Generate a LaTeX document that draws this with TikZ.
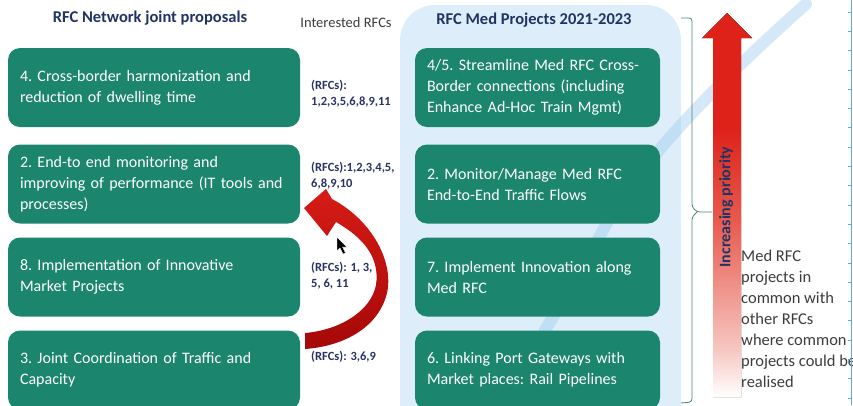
\documentclass[tikz,border=0pt]{standalone}
\usepackage{fontspec}
\setmainfont{Carlito}
\usetikzlibrary{calc}

\definecolor{boxgreen}{RGB}{27,133,110}
\definecolor{navy}{RGB}{31,52,100}
\definecolor{labelnavy}{RGB}{40,52,100}
\definecolor{notegray}{RGB}{60,60,60}
\definecolor{panelblue}{RGB}{221,238,250}
\definecolor{stripeblue}{RGB}{160,205,238}
\definecolor{bracegreen}{RGB}{70,135,115}
\definecolor{prioRed}{RGB}{222,34,26}
\definecolor{prioMid}{RGB}{232,90,78}
\definecolor{prioPink}{RGB}{246,200,195}
\definecolor{curveRedTop}{RGB}{215,28,22}
\definecolor{curveRedBot}{RGB}{165,8,8}
\definecolor{rulerblue}{RGB}{95,170,220}

% red-to-white fade of the priority arrow (path is mapped onto 25bp..75bp)
\pgfdeclareverticalshading{prioshade}{100bp}{%
  color(0bp)=(white); color(25bp)=(white); color(31bp)=(prioPink);
  color(48bp)=(prioMid); color(60bp)=(prioRed); color(100bp)=(prioRed)}

\tikzset{
  gbox/.style={draw=none, fill=boxgreen, rounded corners=12pt, text=white,
    align=left, inner xsep=12pt, inner ysep=0pt,
    font=\frenchspacing\fontsize{16}{21}\selectfont},
  lbox/.style={gbox, minimum width=292pt, text width=268pt, minimum height=79pt},
  rbox/.style={gbox, minimum width=245pt, text width=221pt, minimum height=79pt},
  rfclabel/.style={anchor=west, align=left, inner sep=0pt, text=labelnavy,
    font=\bfseries\fontsize{12.5}{16}\selectfont},
  heading/.style={text=navy, inner sep=0pt, font=\bfseries\fontsize{16.5}{20}\selectfont},
}

\begin{document}
\begin{tikzpicture}[x=1pt, y=-1pt]
\useasboundingbox (0,0) rectangle (853,405);
\clip (0,0) rectangle (853,405);

% light panel behind the Med projects
\fill[panelblue, rounded corners=35pt] (400,440) -- (400,5) -- (681,5) -- (681,440);

% soft diagonal band in the background
\draw[stripeblue, opacity=0.45, line width=12pt, line cap=round]
  (806,4) .. controls (730,72) and (640,158) .. (602,232)
          .. controls (585,265) and (570,290) .. (545,330);

% headings
\node[heading] (hleft) at (150,18) {RFC Network joint proposals};
\node[text=notegray, inner sep=0pt, font=\fontsize{14.5}{17}\selectfont] (hmid) at (346,23) {Interested RFCs};
\node[heading] (hright) at (534,20) {RFC Med Projects 2021-2023};

% network joint proposals
\node[lbox] (l4) at (154,87.5) {4. Cross-border harmonization and\\reduction of dwelling time};
\node[lbox] (l2) at (154,184) {2. End-to end monitoring and\\improving of performance (IT tools and\\processes)};
\node[lbox] (l8) at (154,277) {8. Implementation of Innovative\\Market Projects};
\node[lbox] (l3) at (154,370) {3. Joint Coordination of Traffic and\\Capacity};

% Med projects
\node[rbox] (r45) at (537.5,87.5) {\makebox[221pt][s]{4/5. Streamline Med RFC Cross-}\\\makebox[221pt][s]{Border connections (including}\\Enhance Ad-Hoc Train Mgmt)};
\node[rbox] (r2) at (537.5,184) {2. Monitor/Manage Med RFC\\End-to-End Traffic Flows};
\node[rbox] (r7) at (537.5,277) {7. Implement Innovation along\\Med RFC};
\node[rbox] (r6) at (537.5,370) {6. Linking Port Gateways with\\Market places: Rail Pipelines};

% interested corridors
\node[rfclabel] (c4) at (311,94) {(RFCs):\\1,2,3,5,6,8,9,11};
\node[rfclabel] (c2) at (311,176) {(RFCs):1,2,3,4,5,\\6,8,9,10};
\node[rfclabel] (c8) at (311,276) {(RFCs): 1, 3,\\5, 6, 11};
\node[rfclabel] (c3) at (311,357) {(RFCs): 3,6,9};

% curved red arrow from proposal 3 back up to proposal 2
\shade[top color=curveRedTop, bottom color=curveRedBot]
  (304,208) -- (326,189) -- (332,199)
  .. controls (372,220) and (394,262) .. (387,293)
  .. controls (379,326) and (346,346) .. (305,349)
  -- (305,333)
  .. controls (340,330) and (371,311) .. (376,285)
  .. controls (380,258) and (364,238) .. (336,222)
  -- (327,236) -- cycle;

% pointer
\filldraw[fill=black, draw=white, line width=0.4pt]
  (337,237) -- (337,251) -- (340,248) -- (343,254) -- (345.5,253) -- (342.5,247) -- (347,247) -- cycle;

% brace grouping the Med projects
\draw[bracegreen, line width=0.8pt, rounded corners=3pt]
  (681,18) -- (692,18) -- (692,207) -- (697,212) -- (712,212);
\draw[bracegreen, line width=0.8pt, rounded corners=3pt]
  (697,212) -- (692,217) -- (692,402) -- (681,403);

% increasing priority arrow
\fill[shading=prioshade]
  (727,13) -- (752,38) -- (741,38) -- (741,397) -- (713,397) -- (713,38) -- (702,38) -- cycle;
\node[rotate=90, text=navy, inner sep=0pt, font=\bfseries\fontsize{16}{19}\selectfont] (prio) at (726,207) {Increasing priority};

% side note
\node[anchor=north west, align=left, inner sep=0pt, text=notegray,
      font=\fontsize{16.5}{21}\selectfont] (note) at (741,250)
  {Med RFC\\projects in\\common with\\other RFCs\\where common\\projects could be\\realised};

% ruler at the right edge
\draw[rulerblue, line width=1pt] (851.5,0) -- (851.5,405);
\foreach \k in {0,...,20}
  \draw[rulerblue, line width=0.8pt] (847.5,12+19.3*\k) -- (851.5,12+19.3*\k);
\end{tikzpicture}
\end{document}
